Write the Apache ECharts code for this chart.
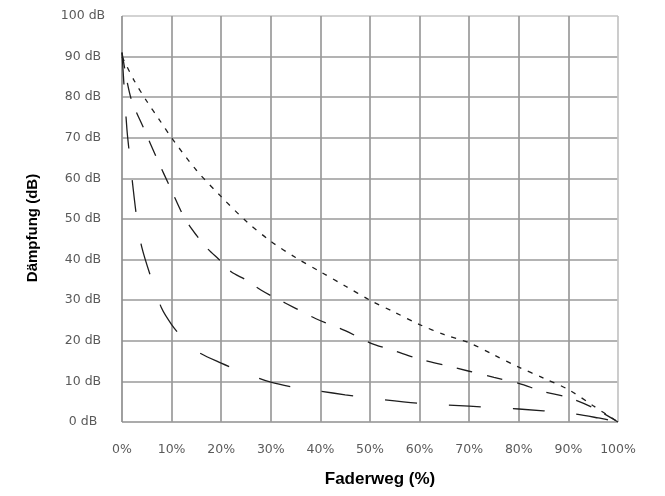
<!DOCTYPE html>
<html>
<head>
<meta charset="utf-8">
<script src="https://cdn.jsdelivr.net/npm/echarts@6/dist/echarts.min.js"></script>
<style>
html,body{margin:0;padding:0;background:#fff;}
#chart{width:665px;height:496px;}
</style>
</head>
<body>
<div id="chart"></div>
<script>
// Tick values
var xTicks = [0, 10, 20, 30, 40, 50, 60, 70, 80, 90, 100];
var yTicks = [0, 10, 20, 30, 40, 50, 60, 70, 80, 90, 100];

// Curve 1 (fine dotted)
var dottedX = [0, 2.5, 5, 7.5, 10, 15, 20, 25, 30, 35, 40, 45, 50, 55, 60, 65, 70, 75, 80, 85, 90, 95, 100];
var dottedY = [90, 84, 79, 74.5, 70, 62, 55.5, 49.5, 44.5, 40.5, 37, 33.5, 30, 27, 24, 21.5, 19.5, 16.5, 13.5, 10.8, 8, 4, 0];

// Curve 2 (medium dashes)
var mediumX = [0, 1, 2, 4.5, 7, 10, 12.5, 15, 17, 20, 22, 25, 28, 31, 35, 39, 45, 50, 55, 60, 65, 70, 75, 80, 85, 90, 95, 100];
var mediumY = [91, 84, 79, 72, 65, 57, 50.5, 46, 43, 39.5, 37, 35, 32.5, 30.5, 28, 25.5, 22.5, 19.5, 17.5, 15.5, 14, 12.5, 11, 9.5, 7.5, 6, 3.5, 0];

// Curve 3 (long dashes)
var longX = [0, 0.5, 1, 1.5, 2.2, 3, 4, 6, 8, 10, 12, 15, 20, 25, 30, 35, 40, 45, 50, 60, 70, 80, 90, 96, 100];
var longY = [91, 81, 72, 66, 58, 50, 43, 35, 28, 24, 21, 17.5, 14.5, 12, 9.8, 8.5, 7.6, 6.7, 5.9, 4.6, 3.9, 3.2, 2.2, 1, 0];

function pairs(xs, ys) {
  return xs.map(function (x, i) { return [x, ys[i]]; });
}

var chart = echarts.init(document.getElementById('chart'), null, {renderer: 'canvas'});

var gridColorsY = ['#8f8f8f','#9a9a9a','#9a9a9a','#9a9a9a','#9a9a9a','#9a9a9a','#9a9a9a','#9a9a9a','#9a9a9a','#9a9a9a','#c4c4c4'];
var gridColorsX = ['#8f8f8f','#9a9a9a','#9a9a9a','#9a9a9a','#9a9a9a','#9a9a9a','#9a9a9a','#9a9a9a','#9a9a9a','#9a9a9a','#c4c4c4'];

var lineColor = '#1e1e1e';

chart.setOption({
  animation: false,
  backgroundColor: '#ffffff',
  grid: {left: 122, right: 47, top: 16, bottom: 74, containLabel: false},
  xAxis: {
    type: 'value',
    min: xTicks[0],
    max: xTicks[xTicks.length - 1],
    interval: 10,
    name: 'Faderweg (%)',
    nameLocation: 'middle',
    nameGap: 49,
    nameTextStyle: {
      fontFamily: 'Liberation Sans',
      fontWeight: 'bold',
      fontSize: 17,
      color: '#000',
      padding: [0, 0, 0, 20]
    },
    axisLine: {show: false},
    axisTick: {show: false},
    axisLabel: {
      formatter: '{value}%',
      fontFamily: 'DejaVu Sans',
      fontSize: 12.5,
      color: '#5a5a5a',
      margin: 21
    },
    splitLine: {show: true, lineStyle: {color: gridColorsX, width: 1.7}}
  },
  yAxis: {
    type: 'value',
    min: yTicks[0],
    max: yTicks[yTicks.length - 1],
    interval: 10,
    name: 'Dämpfung (dB)',
    nameLocation: 'middle',
    nameRotate: 90,
    nameGap: 82,
    nameTextStyle: {
      fontFamily: 'Liberation Sans',
      fontWeight: 'bold',
      fontSize: 15,
      color: '#000',
      padding: [0, 18, 0, 0]
    },
    axisLine: {show: false},
    axisTick: {show: false},
    axisLabel: {
      formatter: '{value} dB',
      fontFamily: 'DejaVu Sans',
      fontSize: 12.5,
      color: '#5a5a5a',
      align: 'center',
      margin: 39
    },
    splitLine: {show: true, lineStyle: {color: gridColorsY, width: 1.7}}
  },
  series: [
    {
      type: 'line',
      data: pairs(dottedX, dottedY),
      smooth: 0.3,
      showSymbol: false,
      lineStyle: {color: lineColor, width: 1.3, type: [5, 7]}
    },
    {
      type: 'line',
      data: pairs(mediumX, mediumY),
      smooth: 0.3,
      showSymbol: false,
      lineStyle: {color: lineColor, width: 1.3, type: [16, 15]}
    },
    {
      type: 'line',
      data: pairs(longX, longY),
      smooth: 0.3,
      showSymbol: false,
      lineStyle: {color: lineColor, width: 1.3, type: [32, 32]}
    }
  ]
});
</script>
</body>
</html>
